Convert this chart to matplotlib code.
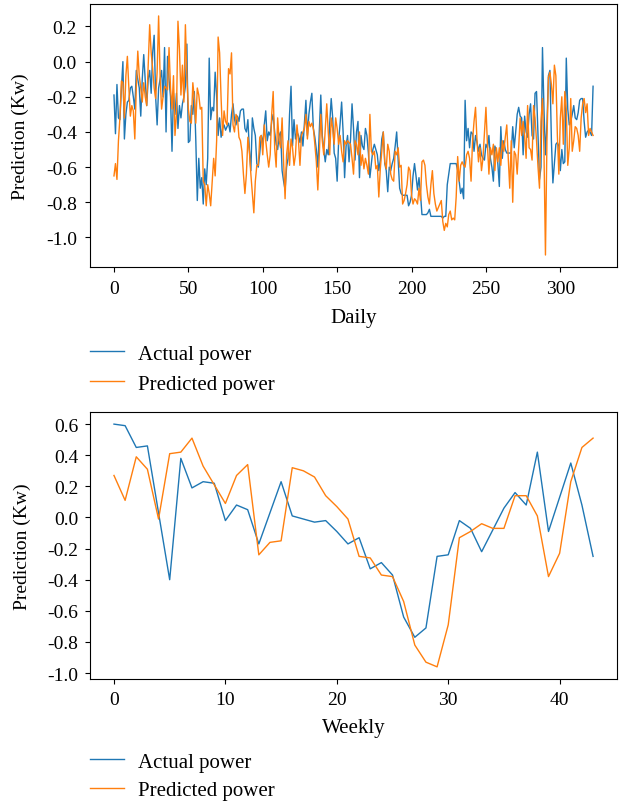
import matplotlib
matplotlib.use("Agg")
import matplotlib.pyplot as plt

plt.rcParams["font.family"] = ["Liberation Serif", "DejaVu Serif"]
plt.rcParams["axes.unicode_minus"] = False

# daily series (index 0..322)
daily_actual = [
    -0.19, -0.41, -0.13, -0.32, -0.33, -0.15, 0.00, -0.44, -0.30, -0.23,
    -0.22, -0.15, -0.14, -0.20, -0.27, -0.05, -0.10, -0.15, -0.31, -0.10,
    0.04, -0.10, -0.25, -0.10, -0.05, -0.18, 0.05, 0.15, -0.20, -0.36,
    -0.15, -0.10, -0.05, -0.20, 0.08, -0.40, 0.03, -0.10, -0.20, -0.51,
    -0.18, -0.30, -0.18, -0.38, -0.25, -0.32, -0.24, -0.20, -0.14, 0.10,
    -0.46, -0.45, -0.25, -0.30, -0.17, -0.45, -0.79, -0.55, -0.72, -0.66,
    -0.81, -0.61, -0.70, -0.55, 0.02, -0.33,
    -0.26, -0.28, -0.06, -0.20, -0.42, -0.32, -0.43, -0.38, -0.36, -0.39,
    -0.37, -0.35, -0.40, -0.30, -0.24, -0.33, -0.36, -0.31, -0.34, -0.28,
    -0.27, -0.27, -0.38, -0.40, -0.33, -0.50, -0.62, -0.32, -0.38, -0.42,
    -0.58, -0.60, -0.52, -0.42, -0.47, -0.36, -0.28, -0.45, -0.40, -0.42,
    -0.34, -0.30, -0.40, -0.47, -0.50, -0.42, -0.40, -0.62, -0.68, -0.73,
    -0.60, -0.55, -0.30, -0.14, -0.48, -0.33, -0.44, -0.40, -0.42, -0.46,
    -0.40, -0.48, -0.35, -0.22, -0.42, -0.30, -0.23,
    -0.18, -0.38, -0.43, -0.50, -0.60, -0.40, -0.19, -0.42, -0.50, -0.57,
    -0.50, -0.53, -0.35, -0.21, -0.32, -0.52, -0.55, -0.68, -0.45, -0.35,
    -0.23, -0.40, -0.66, -0.48, -0.42, -0.57, -0.44, -0.24, -0.38, -0.56,
    -0.40, -0.34, -0.66, -0.42, -0.48, -0.50, -0.38, -0.42, -0.52, -0.66,
    -0.58, -0.50, -0.47, -0.50, -0.53, -0.62, -0.56, -0.44, -0.40, -0.58,
    -0.62, -0.74, -0.60, -0.62, -0.58, -0.55, -0.48, -0.40, -0.56, -0.72,
    -0.75, -0.76, -0.76, -0.76, -0.76, -0.82, -0.80, -0.76,
    -0.65, -0.58, -0.65, -0.73, -0.66, -0.75, -0.87, -0.87, -0.87, -0.87,
    -0.86, -0.84, -0.88, -0.88, -0.88, -0.88, -0.88, -0.88, -0.88, -0.88,
    -0.89, -0.88, -0.88, -0.70, -0.64, -0.58, -0.58, -0.58, -0.58, -0.58,
    -0.62, -0.68, -0.75, -0.72, -0.78, -0.22, -0.45, -0.38, -0.49, -0.40,
    -0.41, -0.51, -0.42, -0.46, -0.51, -0.47, -0.53, -0.55, -0.56, -0.47,
    -0.49, -0.42, -0.55, -0.60, -0.68, -0.48, -0.51, -0.58, -0.71, -0.37,
    -0.55, -0.45, -0.50, -0.52, -0.52, -0.52, -0.52,
    -0.37, -0.49, -0.40, -0.30, -0.26, -0.31, -0.32, -0.53, -0.31, -0.40,
    -0.43, -0.30, -0.24, -0.42, -0.44, -0.18, -0.17, -0.42, -0.67, -0.60,
    0.08, -0.27, -0.53, -0.36, -0.08, -0.05, -0.45, -0.69, -0.58, -0.47,
    -0.46, -0.48, -0.62, -0.50, -0.58, -0.57, 0.02, -0.27, -0.36, -0.34,
    -0.30, -0.25, -0.32, -0.33, -0.29, -0.22, -0.21, -0.21, -0.34, -0.43,
    -0.40, -0.39, -0.40, -0.42, -0.14,
]

daily_predicted = [
    -0.65, -0.58, -0.67, -0.45, -0.32, -0.11, -0.12, -0.32, -0.08, 0.03,
    -0.15, -0.31, -0.25, -0.28, -0.44, -0.15, 0.06, -0.08, -0.15, -0.23,
    -0.12, -0.20, -0.25, -0.02, 0.21, 0.05, -0.04, -0.15, -0.21, -0.06,
    0.26, -0.08, -0.27, -0.20, -0.14, -0.15, -0.16, 0.08, -0.15, -0.27,
    -0.08, -0.42, -0.30, 0.23, 0.07, -0.19, -0.02, -0.23, 0.21, -0.08,
    -0.27, -0.34, -0.35, -0.12, -0.21, -0.35, -0.15, -0.19, -0.27, -0.26,
    -0.68, -0.70, -0.82, -0.70,
    -0.75, -0.82, -0.68, -0.55, -0.65, -0.45, 0.14, 0.05, -0.21, -0.42,
    -0.28, -0.34, -0.36, -0.04, -0.07, 0.05, -0.36, -0.40, -0.30, -0.32,
    -0.43, -0.45, -0.51, -0.64, -0.75, -0.64, -0.43, -0.51, -0.64, -0.75,
    -0.86, -0.68, -0.59, -0.59, -0.43, -0.42, -0.53, -0.36, -0.45, -0.53,
    -0.60, -0.53, -0.30, -0.17, -0.49, -0.60, -0.32, -0.45, -0.49, -0.32,
    -0.57, -0.78, -0.53, -0.45, -0.59, -0.44, -0.49, -0.59, -0.53, -0.36,
    -0.45, -0.59, -0.42, -0.40, -0.38, -0.30, -0.44, -0.34, -0.37,
    -0.35, -0.38, -0.47, -0.57, -0.73, -0.53, -0.30, -0.45, -0.53, -0.38,
    -0.24, -0.40, -0.53, -0.32, -0.38, -0.47, -0.32, -0.38, -0.47, -0.42,
    -0.51, -0.57, -0.45, -0.47, -0.45, -0.46, -0.47, -0.55, -0.64, -0.45,
    -0.47, -0.53, -0.40, -0.59, -0.53, -0.61, -0.55, -0.59, -0.64, -0.30,
    -0.51, -0.53, -0.51, -0.61, -0.59, -0.77, -0.61, -0.51, -0.40, -0.57,
    -0.61, -0.47, -0.51, -0.64, -0.67, -0.68, -0.51, -0.53, -0.49, -0.60,
    -0.59, -0.81, -0.79, -0.75, -0.70, -0.60, -0.62, -0.76,
    -0.81, -0.78, -0.79, -0.81, -0.72, -0.79, -0.57, -0.56, -0.59, -0.70,
    -0.77, -0.81, -0.70, -0.62, -0.75, -0.81, -0.85, -0.83, -0.81, -0.79,
    -0.91, -0.96, -0.92, -0.94, -0.87, -0.85, -0.90, -0.89, -0.90, -0.77,
    -0.54, -0.68, -0.59, -0.57, -0.59, -0.60, -0.53, -0.51, -0.55, -0.68,
    -0.45, -0.34, -0.26, -0.45, -0.57, -0.49, -0.62, -0.55, -0.40, -0.26,
    -0.47, -0.64, -0.49, -0.53, -0.47, -0.62, -0.49, -0.57, -0.49, -0.59,
    -0.45, -0.51, -0.43, -0.36, -0.55, -0.72,
    -0.45, -0.80, -0.51, -0.53, -0.64, -0.49, -0.32, -0.42, -0.34, -0.42,
    -0.55, -0.25, -0.49, -0.50, -0.56, -0.25, -0.32, -0.45, -0.60, -0.72,
    -0.34, -0.21, -0.51, -1.10, -0.45, -0.09, -0.06, -0.13, -0.24, -0.02,
    -0.08, -0.42, -0.64, -0.32, -0.20, -0.47, -0.17, -0.27, -0.59, -0.49,
    -0.21, -0.51, -0.45, -0.37, -0.38, -0.42, -0.51, -0.32, -0.24, -0.21,
    -0.29, -0.24, -0.42, -0.38, -0.40, -0.42,
]

# weekly series (index 0..43)
weekly_actual = [
    0.60, 0.59, 0.45, 0.46, 0.03, -0.40, 0.38, 0.19, 0.23, 0.22,
    -0.02, 0.08, 0.05, -0.17, 0.03, 0.23, 0.01, -0.01, -0.03, -0.02,
    -0.09, -0.17, -0.13, -0.33, -0.29, -0.37, -0.64, -0.77, -0.71, -0.25,
    -0.24, -0.02, -0.07, -0.22, -0.08, 0.06, 0.16, 0.08, 0.42, -0.09,
    0.13, 0.35, 0.08, -0.25,
]
weekly_predicted = [
    0.27, 0.11, 0.39, 0.31, -0.01, 0.41, 0.42, 0.51, 0.33, 0.21,
    0.09, 0.27, 0.34, -0.24, -0.16, -0.15, 0.32, 0.30, 0.26, 0.14,
    0.07, -0.01, -0.25, -0.26, -0.37, -0.38, -0.54, -0.82, -0.93, -0.96,
    -0.69, -0.13, -0.09, -0.04, -0.07, -0.07, 0.14, 0.14, 0.01, -0.38,
    -0.23, 0.23, 0.45, 0.51,
]

fs = 15
fig = plt.figure(figsize=(6.23, 8.03), dpi=100)
ax1 = fig.add_axes([0.1445, 0.6663, 0.8459, 0.3275])
ax2 = fig.add_axes([0.1445, 0.1532, 0.8459, 0.3325])

ax1.plot(range(len(daily_actual)), daily_actual, color="#1f77b4", lw=1.0, label="Actual power")
ax1.plot(range(len(daily_predicted)), daily_predicted, color="#ff7f0e", lw=1.0, label="Predicted power")
ax1.set_xlabel("Daily", fontsize=fs, labelpad=8)
ax1.set_ylabel("Prediction (Kw)", fontsize=14, labelpad=12)
ax1.set_xticks([0, 50, 100, 150, 200, 250, 300])
ax1.set_yticks([0.2, 0.0, -0.2, -0.4, -0.6, -0.8, -1.0])
ax1.legend(loc="upper left", bbox_to_anchor=(-0.016, -0.262), frameon=False, fontsize=fs,
           handlelength=1.65, handletextpad=0.65, labelspacing=0.5, borderaxespad=0)
ax1.tick_params(pad=6)

ax2.plot(range(len(weekly_actual)), weekly_actual, color="#1f77b4", lw=1.0, label="Actual power")
ax2.plot(range(len(weekly_predicted)), weekly_predicted, color="#ff7f0e", lw=1.0, label="Predicted power")
ax2.set_xlabel("Weekly", fontsize=fs, labelpad=7)
ax2.set_ylabel("Prediction (Kw)", fontsize=14, labelpad=12)
ax2.set_xticks([0, 10, 20, 30, 40])
ax2.set_yticks([0.6, 0.4, 0.2, 0.0, -0.2, -0.4, -0.6, -0.8, -1.0])
ax2.legend(loc="upper left", bbox_to_anchor=(-0.016, -0.243), frameon=False, fontsize=fs,
           handlelength=1.65, handletextpad=0.65, labelspacing=0.42, borderaxespad=0)
ax2.tick_params(pad=5)

for ax in (ax1, ax2):
    ax.tick_params(labelsize=14)

fig.savefig("out.png", dpi=100)
